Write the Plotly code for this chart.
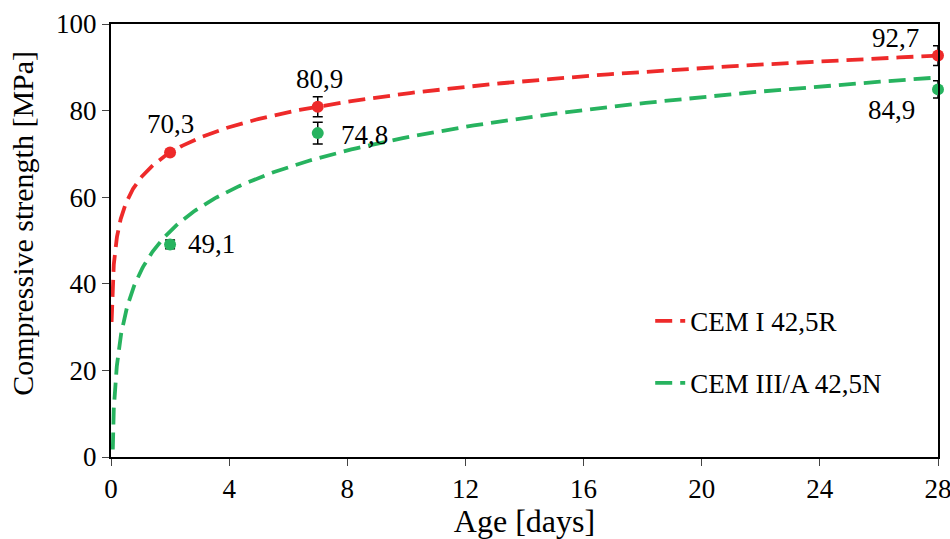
import numpy as np
import plotly.graph_objects as go

# Measured compressive strength at each age
age_days = [2, 7, 28]
cem1_strength = [70.3, 80.9, 92.7]
cem1_err = [0.5, 2.3, 2.3]
cem3_strength = [49.1, 74.8, 84.9]
cem3_err = [1.0, 2.5, 2.0]

cem1_name = "CEM I 42,5R"
cem3_name = "CEM III/A 42,5N"

x_ticks = [0, 4, 8, 12, 16, 20, 24, 28]
y_ticks = [0, 20, 40, 60, 80, 100]

RED = "#EE2A2A"
GREEN = "#27B35F"
FONT = "'Times New Roman', 'Liberation Serif', Times, serif"
FS = 27


def log_trend(x, y):
    """Least-squares fit y = a + b*ln(x), returned as a smooth curve."""
    b, a = np.polyfit(np.log(x), y, 1)
    xs = np.geomspace(0.02, 28, 300)
    return xs, a + b * np.log(xs)


fig = go.Figure()

for name, y, err, color, group in [
    (cem1_name, cem1_strength, cem1_err, RED, "g1"),
    (cem3_name, cem3_strength, cem3_err, GREEN, "g2"),
]:
    xs, ys = log_trend(age_days, y)
    fig.add_trace(go.Scatter(
        x=xs, y=ys, mode="lines", name=name, legendgroup=group,
        line=dict(color=color, width=3.8, dash="17px,8px"),
    ))
    fig.add_trace(go.Scatter(
        x=age_days, y=y, mode="markers", showlegend=False, legendgroup=group,
        marker=dict(color=color, size=12),
        error_y=dict(type="data", array=err, color="black", thickness=1.5, width=5),
        cliponaxis=False,
    ))

# value labels next to the measured points (pixel offsets from the point)
label_offsets = {
    (0, 0): (0, 29), (0, 1): (2, 28), (0, 2): (-43, 18),
    (1, 0): (41, 0), (1, 1): (47, -2), (1, 2): (-47, -21),
}
for si, vals in enumerate([cem1_strength, cem3_strength]):
    for pi, (xv, yv) in enumerate(zip(age_days, vals)):
        dx, dy = label_offsets[(si, pi)]
        fig.add_annotation(
            x=xv, y=yv, text=f"{yv:.1f}".replace(".", ","), showarrow=False,
            xshift=dx, yshift=dy, font=dict(family=FONT, size=FS, color="black"),
        )

# vertical axis title, placed a little above the axis centre
fig.add_annotation(
    text="Compressive strength [MPa]", xref="paper", yref="paper",
    x=-0.108, y=0.54, textangle=-90, showarrow=False,
    xanchor="center", yanchor="middle",
    font=dict(family=FONT, size=30, color="black"),
)

axis_common = dict(
    showline=True, linecolor="black", linewidth=2, mirror=True,
    ticks="outside", ticklen=7, tickcolor="#444", tickwidth=1,
    showgrid=False, zeroline=False, automargin=False,
    ticklabeloverflow="allow",
    tickfont=dict(family=FONT, size=FS, color="black"),
)

fig.update_layout(
    width=950, height=539,
    margin=dict(l=111, r=12, t=24, b=82),
    paper_bgcolor="white", plot_bgcolor="white",
    font=dict(family=FONT, size=FS, color="black"),
    xaxis=dict(range=[0, 28], tickvals=x_ticks,
               title=dict(text="Age [days]", standoff=6), **axis_common),
    yaxis=dict(range=[0, 100], tickvals=y_ticks, **axis_common),
    legend=dict(x=0.652, y=0.37, xanchor="left", yanchor="top",
                bgcolor="rgba(0,0,0,0)", tracegroupgap=24,
                font=dict(family=FONT, size=FS)),
    showlegend=True,
)

fig.write_html("out.html")
